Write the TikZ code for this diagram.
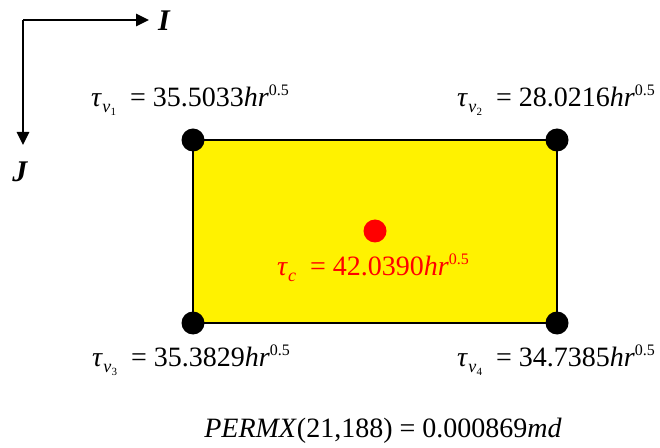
\documentclass[tikz,border=0pt]{standalone}
\usepackage{fontspec}
\setmainfont{Liberation Serif}
\usetikzlibrary{arrows.meta}
\newcommand{\tauval}[2]{\textit{τ}\kern0.5pt\raisebox{-0.45ex}{\fontsize{18}{18}\selectfont\textit{v}\kern0.3pt\raisebox{-0.35ex}{\fontsize{11}{11}\selectfont #1}}\ \ =\ #2\textit{hr}\raisebox{0.85ex}{\fontsize{16}{16}\selectfont 0.5}}
\begin{document}
\begin{tikzpicture}[x=1pt,y=1pt,
  lbl/.style={inner sep=0pt,font=\fontsize{28}{32}\selectfont},
  dot/.style={circle,fill=black,minimum size=23pt,inner sep=0pt},
  ax/.style={line width=2.6pt,-{Triangle[length=13pt,width=12pt]}}]
\useasboundingbox (0,0) rectangle (660,447);
% axes
\coordinate (o) at (23,427);
\coordinate (ie) at (149,427);
\coordinate (je) at (23,302);
\draw[ax] (o) -- (ie);
\draw[ax] (o) -- (je);
\node[inner sep=0pt,font=\fontsize{30}{32}\selectfont\bfseries\itshape] (I) at (164,426) {I};
\node[inner sep=0pt,font=\fontsize{30}{32}\selectfont\bfseries\itshape] (J) at (20,275) {J};
% cell
\draw[fill=yellow,line width=2.6pt] (193,307) rectangle (557,124);
\node[dot] (v1) at (193,307) {};
\node[dot] (v2) at (557,307) {};
\node[dot] (v3) at (193,124) {};
\node[dot] (v4) at (557,124) {};
\node[circle,fill=red,minimum size=23pt,inner sep=0pt] (c) at (375,216) {};
\node[lbl,text=red] (cl) at (373,179) {\textit{τ}\raisebox{-0.45ex}{\fontsize{18}{18}\selectfont\textit{c}}\ \ =\ 42.0390\textit{hr}\raisebox{0.85ex}{\fontsize{16}{16}\selectfont 0.5}};
\node[lbl] (l1) at (190,347) {\tauval{1}{35.5033}};
\node[lbl] (l2) at (556,347) {\tauval{2}{28.0216}};
\node[lbl] (l3) at (191,87) {\tauval{3}{35.3829}};
\node[lbl] (l4) at (556,87) {\tauval{4}{34.7385}};
\node[lbl] (p) at (383,16) {\textit{PERMX}(21,188) = 0.000869\textit{md}};
\end{tikzpicture}
\end{document}
